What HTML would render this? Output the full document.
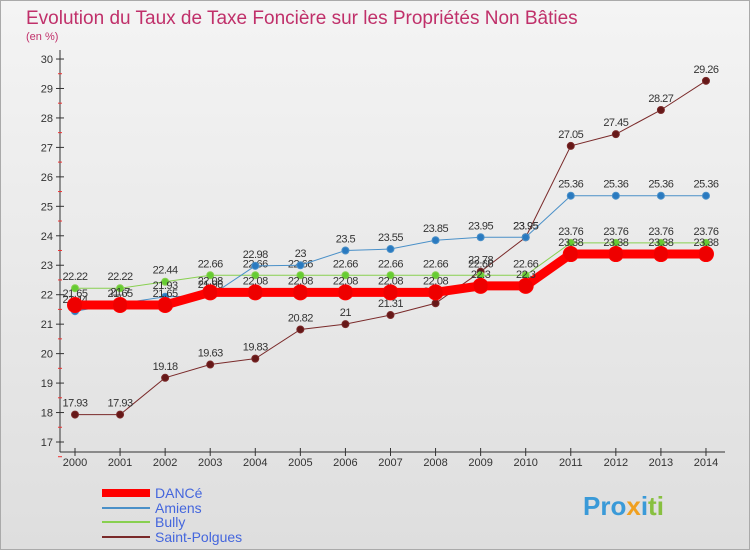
<!DOCTYPE html>
<html><head><meta charset="utf-8"><style>
body{margin:0;width:750px;height:550px;overflow:hidden;font-family:"Liberation Sans",sans-serif}
</style></head><body>
<svg width="750" height="550">
<defs><linearGradient id="bg" x1="0" y1="0" x2="0" y2="1"><stop offset="0" stop-color="#f4f4f4"/><stop offset="1" stop-color="#dedede"/></linearGradient></defs>
<rect x="0.5" y="0.5" width="749" height="549" fill="url(#bg)" stroke="#aaa"/>
<text x="26" y="24" font-size="19" fill="#c0306a">Evolution du Taux de Taxe Foncière sur les Propriétés Non Bâties</text>
<text x="26" y="40" font-size="11" fill="#c0306a">(en %)</text>
<g id="axes"></g><g id="series"></g>
<g font-size="14">
<line x1="102" y1="493" x2="150" y2="493" stroke="#f00" stroke-width="8"/>
<text x="155" y="498" fill="#4466dd">DANCé</text>
<line x1="102" y1="508" x2="150" y2="508" stroke="#4a90c8" stroke-width="2"/>
<text x="155" y="513" fill="#4466dd">Amiens</text>
<line x1="102" y1="522" x2="150" y2="522" stroke="#88d050" stroke-width="2"/>
<text x="155" y="527" fill="#4466dd">Bully</text>
<line x1="102" y1="537" x2="150" y2="537" stroke="#7a2a2a" stroke-width="2"/>
<text x="155" y="542" fill="#4466dd">Saint-Polgues</text>
</g>
<text x="583" y="515" font-size="26" font-weight="bold" fill="#3a9ad8">Pro<tspan fill="#f0a020">x</tspan>i<tspan fill="#88c040">ti</tspan></text>
</svg>
<script>
const years=[2000,2001,2002,2003,2004,2005,2006,2007,2008,2009,2010,2011,2012,2013,2014];
const yTicks=[17,18,19,20,21,22,23,24,25,26,27,28,29,30];
const dance=[21.65,21.65,21.65,22.08,22.08,22.08,22.08,22.08,22.08,22.3,22.3,23.38,23.38,23.38,23.38];
const amiens=[21.44,21.7,21.93,21.96,22.98,23,23.5,23.55,23.85,23.95,23.95,25.36,25.36,25.36,25.36];
const bully=[22.22,22.22,22.44,22.66,22.66,22.66,22.66,22.66,22.66,22.66,22.66,23.76,23.76,23.76,23.76];
const polgues=[17.93,17.93,19.18,19.63,19.83,20.82,21,21.31,21.71,22.78,23.95,27.05,27.45,28.27,29.26];
const NS="http://www.w3.org/2000/svg";
const X=i=>75+i*45.07, Y=v=>442-(v-17)*29.46;
function mk(t,a,p){const e=document.createElementNS(NS,t);for(const k in a)e.setAttribute(k,a[k]);p.appendChild(e);return e;}
const ax=document.getElementById('axes');
const yl=mk('line',{x1:60,y1:50,x2:60,y2:452,stroke:'#333'},ax);


const xl=mk('line',{x1:60,y1:452,x2:725,y2:452,stroke:'#333'},ax);


yTicks.forEach(v=>{
 mk('line',{x1:56,y1:Y(v),x2:64,y2:Y(v),stroke:'#333'},ax);
 mk('line',{x1:58,y1:Y(v)+14.7,x2:62,y2:Y(v)+14.7,stroke:'#e33'},ax);
 const t=mk('text',{x:53,y:Y(v)+4,'font-size':11,'text-anchor':'end',fill:'#333'},ax);t.textContent=v;
 
 
});
years.forEach((yr,i)=>{
 mk('line',{x1:X(i),y1:448,x2:X(i),y2:456,stroke:'#333'},ax);
 const t=mk('text',{x:X(i),y:466,'font-size':11,'text-anchor':'middle',fill:'#333'},ax);t.textContent=yr;
 
 
});
const sg=document.getElementById('series');
function series(vals,name,color,w,r,dot){
 const g=mk('g',{},sg);
 
 
 const p=mk('polyline',{points:vals.map((v,i)=>X(i)+','+Y(v)).join(' '),fill:'none',stroke:color,'stroke-width':w},g);
 
 
 vals.forEach((v,i)=>{
  const c=mk('circle',{cx:X(i),cy:Y(v),r:r,fill:dot,stroke:color,'stroke-width':1},g);
  
  
  const t=mk('text',{x:X(i),y:Y(v)-8,'font-size':11,'text-anchor':'middle',fill:'#333','letter-spacing':'-0.5'},g);
  t.textContent=v;
  
  
 });
}
series(polgues,'saint-polgues','#7a2a2a',1,3.5,'#661818');
series(bully,'bully','#88d050',1,3.5,'#66cc33');
series(amiens,'amiens','#4a90c8',1,3.5,'#2a7ac0');
series(dance,'dance','#f00',9,7.5,'#e00');
</script>
</body></html>
